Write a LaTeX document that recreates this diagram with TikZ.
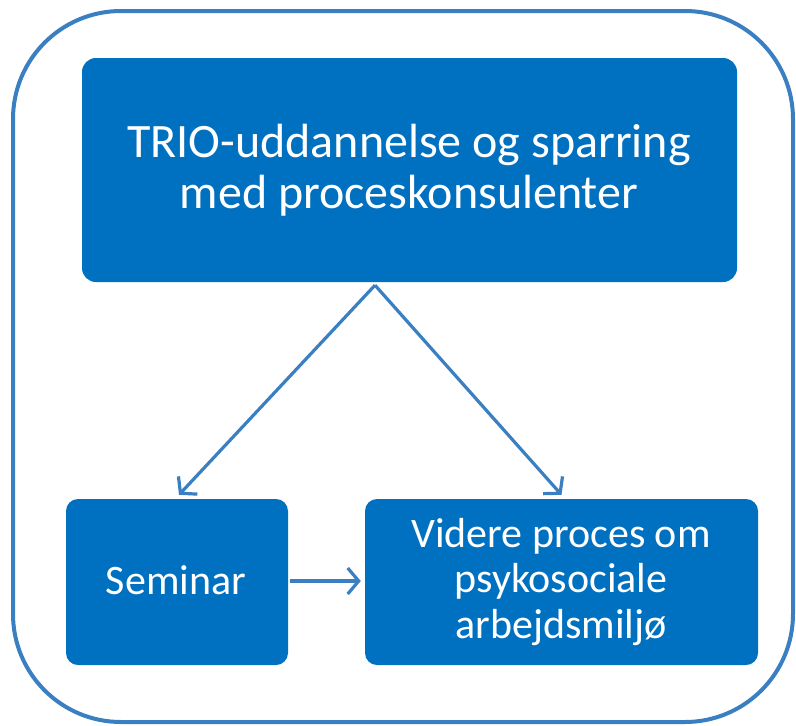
\documentclass[tikz,border=0pt]{standalone}
\usepackage{fontspec}
\setmainfont{Carlito}
\usetikzlibrary{arrows.meta}
\definecolor{boxblue}{HTML}{0070C0}
\definecolor{lineblue}{HTML}{3A7FC2}
\tikzset{
  bluebox/.style={fill=boxblue, draw=none, rectangle, inner sep=0pt},
  boxtext/.style={text=white, font=\fontsize{48}{51}\selectfont, align=center, inner sep=0pt},
  smalltext/.style={text=white, font=\fontsize{42}{45.5}\selectfont, align=center, inner sep=0pt},
  conn/.style={draw=lineblue, line width=3.2pt, -{Straight Barb[length=11pt,width=26pt,line width=3.2pt]}}
}
\begin{document}
\begin{tikzpicture}[x=1pt,y=-1pt]
\useasboundingbox (0,0) rectangle (796,726);
\draw[lineblue, line width=4pt, rounded corners=108pt] (13,11) rectangle (793,722);
\node[bluebox, rounded corners=14pt, minimum width=655pt, minimum height=224pt] (top) at (409.5,170) {};
\node[boxtext, anchor=base] (toptext) at (409,208) {TRIO-uddannelse og sparring\\med proceskonsulenter};
\node[bluebox, rounded corners=12pt, minimum width=222pt, minimum height=166pt] (sem) at (177,582) {};
\node[smalltext, anchor=base] (semtext) at (176,594) {Seminar};
\node[bluebox, rounded corners=12pt, minimum width=393pt, minimum height=166pt] (vid) at (561.5,582) {};
\node[smalltext, anchor=base] (vidtext) at (561,638) {Videre proces om\\psykosociale\\arbejdsmiljø};
\coordinate (apex) at ([xshift=-34.5pt, yshift=-3pt]top.south);
\draw[conn] (apex) -- ([xshift=2pt, yshift=4pt]sem.north);
\draw[conn] (apex) -- ([yshift=4pt]vid.north);
\draw[conn] ([xshift=2pt, yshift=1pt]sem.east) -- ([xshift=-4pt, yshift=1pt]vid.west);
\end{tikzpicture}
\end{document}
